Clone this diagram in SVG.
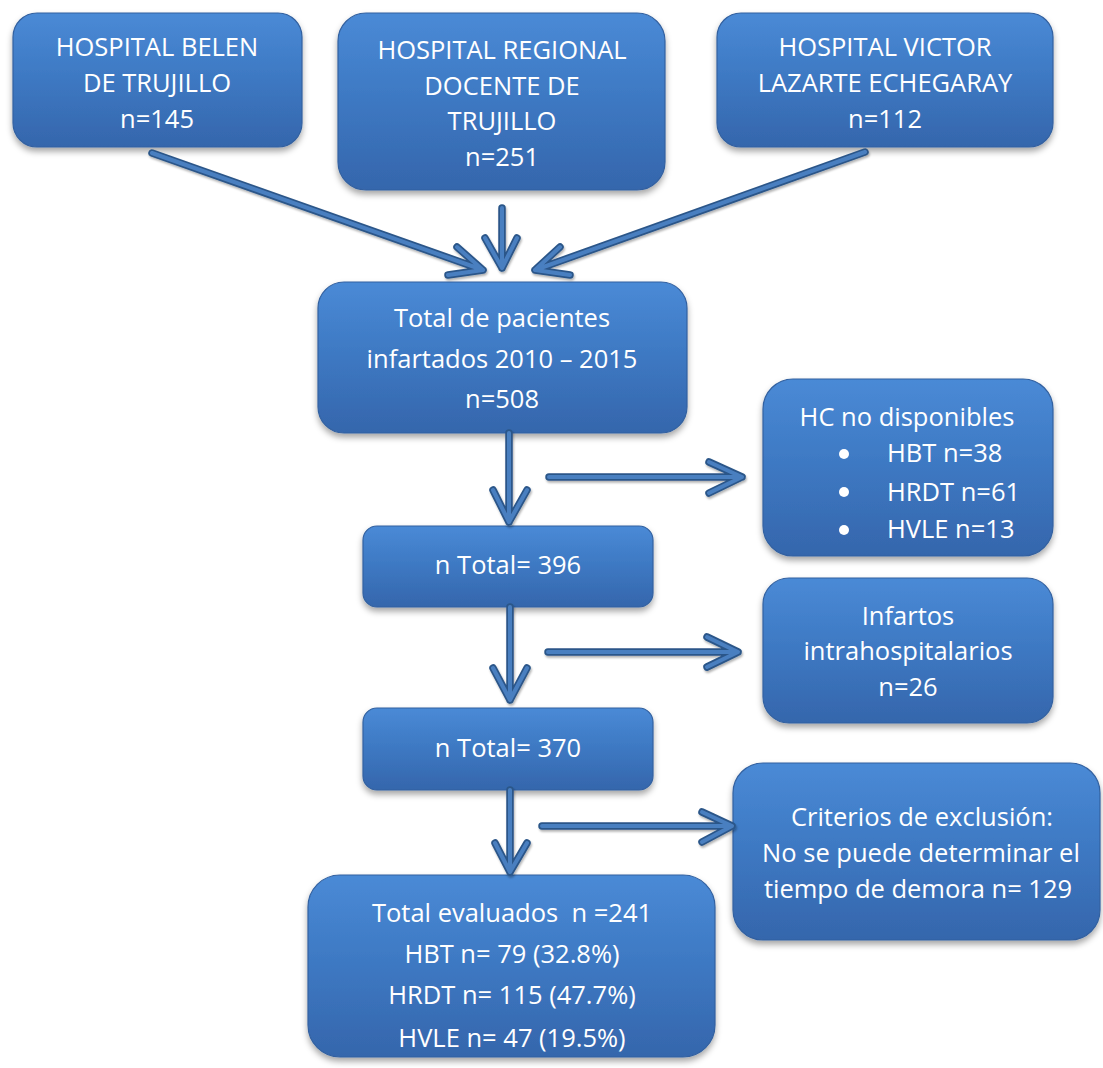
<svg xmlns="http://www.w3.org/2000/svg" width="1103" height="1068" viewBox="0 0 1103 1068">
<defs>
<linearGradient id="g" x1="0" y1="0" x2="0" y2="1">
<stop offset="0" stop-color="#4a8ad6"/>
<stop offset="0.5" stop-color="#3d78c2"/>
<stop offset="1" stop-color="#3566ac"/>
</linearGradient>
<filter id="sh" x="-10%" y="-10%" width="120%" height="130%">
<feDropShadow dx="0" dy="4" stdDeviation="3" flood-color="#000" flood-opacity="0.35"/>
</filter>
<filter id="ash" x="-10%" y="-10%" width="120%" height="130%">
<feDropShadow dx="1" dy="2" stdDeviation="1.2" flood-color="#000" flood-opacity="0.3"/>
</filter>
</defs>
<style>
.box{fill:url(#g);stroke:#3361a0;stroke-width:1.2;filter:url(#sh)}
.t{font-family:"Open Sans","Noto Sans",sans-serif;font-size:25.5px;fill:#fff;text-anchor:middle}
.tl{text-anchor:start}
.ao{fill:none;stroke:#2c5689;stroke-width:7.5;stroke-linecap:round;stroke-linejoin:round}
.ai{fill:none;stroke:#4a7fc0;stroke-width:4;stroke-linecap:round;stroke-linejoin:round}
</style>
<g id="n1"><rect class="box" x="13" y="13" width="289" height="134" rx="24"/>
<text class="t" x="157" y="56">HOSPITAL BELEN</text><text class="t" x="157" y="92">DE TRUJILLO</text><text class="t" x="157" y="128">n=145</text></g>
<g id="n2"><rect class="box" x="338" y="13" width="327" height="177" rx="28"/>
<text class="t" x="502" y="59">HOSPITAL REGIONAL</text><text class="t" x="502" y="95">DOCENTE DE</text><text class="t" x="502" y="130">TRUJILLO</text><text class="t" x="502" y="166">n=251</text></g>
<g id="n3"><rect class="box" x="717" y="13" width="336" height="134" rx="24"/>
<text class="t" x="885" y="56">HOSPITAL VICTOR</text><text class="t" x="885" y="92">LAZARTE ECHEGARAY</text><text class="t" x="885" y="128">n=112</text></g>
<g id="n4"><rect class="box" x="318" y="282" width="369" height="151" rx="26"/>
<text class="t" x="502" y="327">Total de pacientes</text><text class="t" x="502" y="368">infartados 2010 – 2015</text><text class="t" x="502" y="408">n=508</text></g>
<g id="n5"><rect class="box" x="363" y="526" width="290" height="81" rx="14"/>
<text class="t" x="508" y="574">n Total= 396</text></g>
<g id="n6"><rect class="box" x="763" y="379" width="290" height="177" rx="30"/>
<text class="t" x="907" y="426">HC no disponibles</text>
<circle cx="844" cy="454" r="5" fill="#fff"/><circle cx="844" cy="492" r="5" fill="#fff"/><circle cx="844" cy="530" r="5" fill="#fff"/>
<text class="t tl" x="887" y="462">HBT n=38</text><text class="t tl" x="887" y="501">HRDT n=61</text><text class="t tl" x="887" y="538">HVLE n=13</text></g>
<g id="n7"><rect class="box" x="763" y="578" width="290" height="145" rx="26"/>
<text class="t" x="908" y="625">Infartos</text><text class="t" x="908" y="660">intrahospitalarios</text><text class="t" x="908" y="696">n=26</text></g>
<g id="n8"><rect class="box" x="363" y="708" width="290" height="82" rx="14"/>
<text class="t" x="508" y="757">n Total= 370</text></g>
<g id="n9"><rect class="box" x="733" y="763" width="367" height="177" rx="30"/>
<text class="t" x="922" y="826">Criterios de exclusión:</text><text class="t" x="921" y="862">No se puede determinar el</text><text class="t" x="918" y="898">tiempo de demora n= 129</text></g>
<g id="n10"><rect class="box" x="308" y="875" width="407" height="182" rx="32"/>
<text class="t" x="512" y="922" xml:space="preserve">Total evaluados  n =241</text><text class="t" x="512" y="963">HBT n= 79 (32.8%)</text><text class="t" x="512" y="1004">HRDT n= 115 (47.7%)</text><text class="t" x="512" y="1047">HVLE n= 47 (19.5%)</text></g>
<g id="connectors" filter="url(#ash)">
<g class="ao">
<path d="M152 153 L483 270 M457 247 L483 270 L448 275"/>
<path d="M502 208 L502 268 M485 238 L502 268 L517 238"/>
<path d="M865 152 L535 270 M560 247 L535 270 L570 275"/>
<path d="M509 433 L509 522 M493 490 L509 522 L527 490"/>
<path d="M549 477 L742 477 M709 462 L742 477 L709 493"/>
<path d="M510 607 L510 700 M493 668 L510 700 L527 668"/>
<path d="M548 652 L738 652 M707 637 L738 652 L707 667"/>
<path d="M510 790 L510 872 M495 843 L510 872 L527 843"/>
<path d="M542 826 L732 826 M702 812 L732 826 L702 842"/>
</g>
<g class="ai">
<path d="M152 153 L483 270 M457 247 L483 270 L448 275"/>
<path d="M502 208 L502 268 M485 238 L502 268 L517 238"/>
<path d="M865 152 L535 270 M560 247 L535 270 L570 275"/>
<path d="M509 433 L509 522 M493 490 L509 522 L527 490"/>
<path d="M549 477 L742 477 M709 462 L742 477 L709 493"/>
<path d="M510 607 L510 700 M493 668 L510 700 L527 668"/>
<path d="M548 652 L738 652 M707 637 L738 652 L707 667"/>
<path d="M510 790 L510 872 M495 843 L510 872 L527 843"/>
<path d="M542 826 L732 826 M702 812 L732 826 L702 842"/>
</g>
</g>
</svg>
